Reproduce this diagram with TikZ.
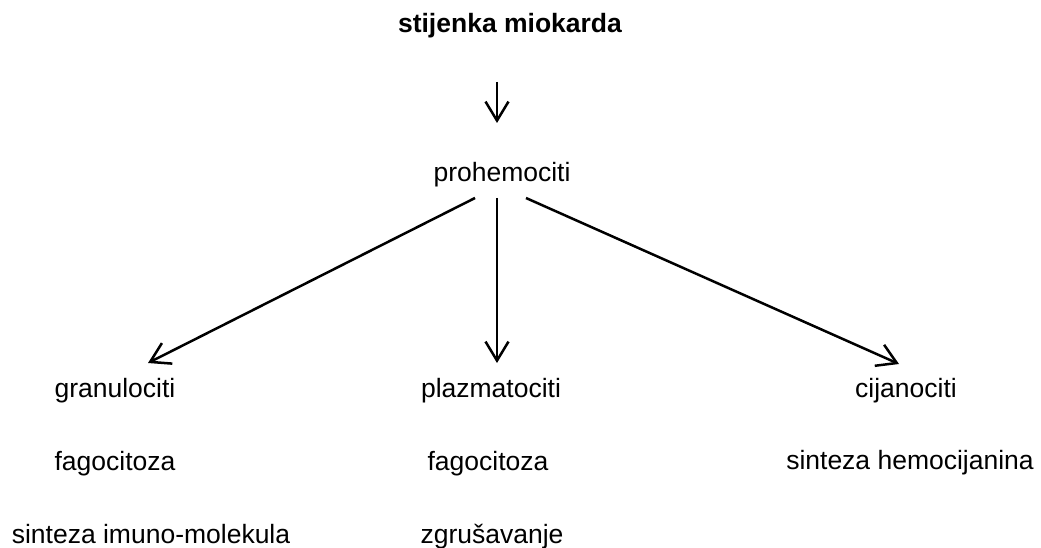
\documentclass[tikz,border=0pt]{standalone}
\usepackage{fontspec}
\setmainfont{Liberation Sans}
\usetikzlibrary{arrows.meta}
\begin{document}
\begin{tikzpicture}[x=1pt,y=-1pt,
  lbl/.style={anchor=base,inner sep=0pt,font=\fontsize{26.5}{30}\selectfont},
  ttl/.style={lbl,font=\fontsize{26.5}{30}\selectfont\bfseries},
  arr/.style={line width=2.5pt,-{Straight Barb[length=19pt,width=23pt,line width=2.5pt]}}]
\useasboundingbox (0,0) rectangle (1041,548);
\node[ttl] (top) at (510,33) {stijenka miokarda};
\node[lbl] (pro) at (502,182) {prohemociti};
\node[lbl] (gra) at (115,397) {granulociti};
\node[lbl] (pla) at (491,397) {plazmatociti};
\node[lbl] (cij) at (906,397) {cijanociti};
\node[lbl] (fag1) at (115,470) {fagocitoza};
\node[lbl] (fag2) at (488,470) {fagocitoza};
\node[lbl] (hem) at (910,469) {sinteza hemocijanina};
\node[lbl] (imu) at (151,543) {sinteza imuno-molekula};
\node[lbl] (zgr) at (492,543) {zgrušavanje};
\coordinate (a0) at (497,82);
\coordinate (a1) at (497,123);
\coordinate (sL) at (475,198);
\coordinate (sM) at (497,198);
\coordinate (sR) at (526,198);
\coordinate (eL) at (148,363);
\coordinate (eM) at (497,363);
\coordinate (eR) at (899,364);
\draw[arr] (a0) -- (a1);
\draw[arr] (sL) -- (eL);
\draw[arr] (sM) -- (eM);
\draw[arr] (sR) -- (eR);
\end{tikzpicture}
\end{document}
